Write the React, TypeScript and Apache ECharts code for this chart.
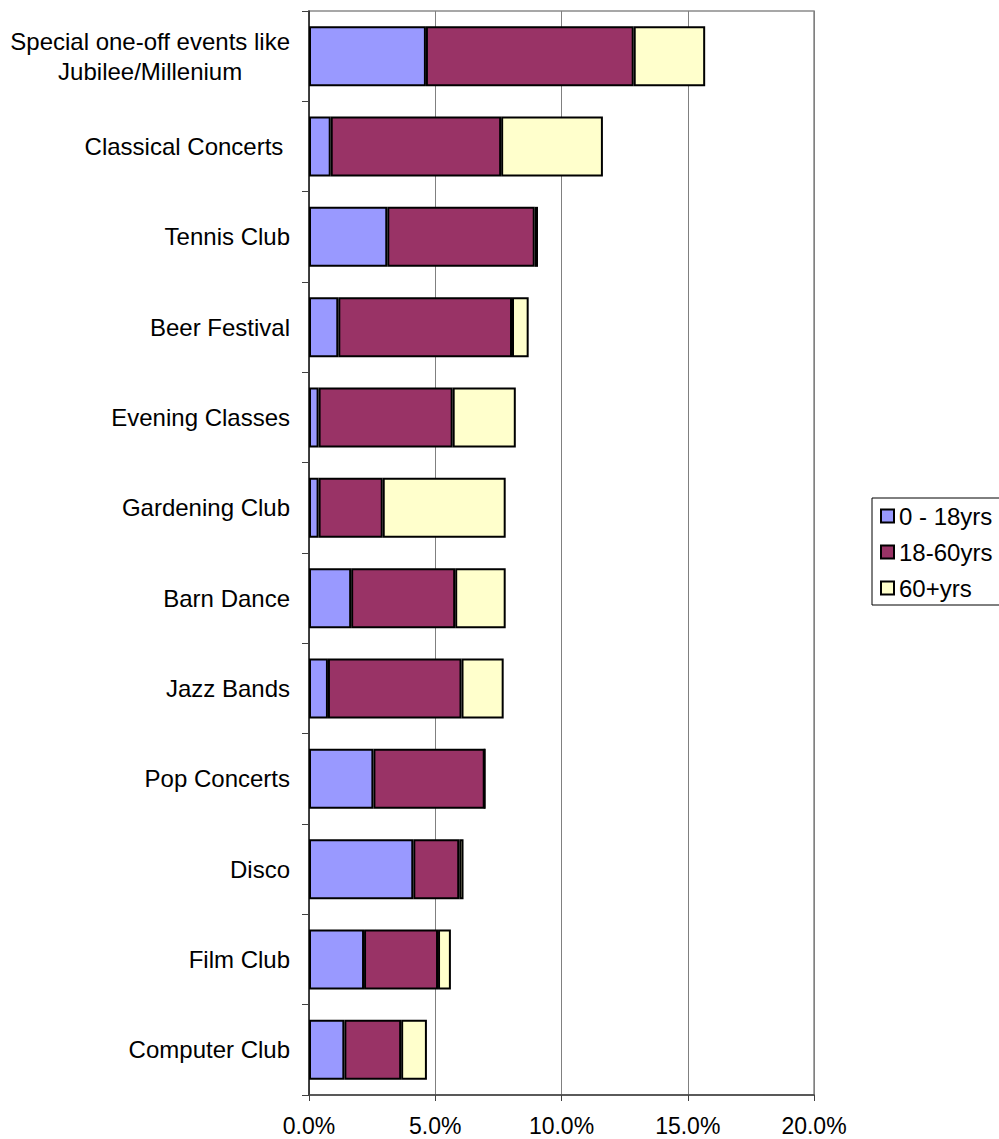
import React, { useEffect, useRef } from "react";
import * as echarts from "echarts";

const categories = [
  "Special one-off events like\nJubilee/Millenium",
  "Classical Concerts ",
  "Tennis Club",
  "Beer Festival",
  "Evening Classes",
  "Gardening Club",
  "Barn Dance",
  "Jazz Bands",
  "Pop Concerts",
  "Disco",
  "Film Club",
  "Computer Club",
];
const age0to18 = [4.63, 0.86, 3.1, 1.16, 0.38, 0.38, 1.67, 0.75, 2.55, 4.13, 2.18, 1.4];
const age18to60 = [8.23, 6.75, 5.84, 6.88, 5.31, 2.54, 4.12, 5.29, 4.41, 1.82, 2.93, 2.25];
const age60plus = [2.83, 4.03, 0.13, 0.66, 2.5, 4.87, 2.0, 1.67, 0, 0.17, 0.51, 1.02];
const seriesNames = ["0 - 18yrs", "18-60yrs", "60+yrs"];
const seriesColors = ["#9999FF", "#993366", "#FFFFCC"];
const xTicks = [0, 5, 10, 15, 20];

export default function App() {
  const ref = useRef<HTMLDivElement>(null);
  useEffect(() => {
    if (!ref.current) return;
    const chart = echarts.init(ref.current, null, { renderer: "svg" });
    const font = "Liberation Sans, Arial, sans-serif";
    const values = [age0to18, age18to60, age60plus];
    chart.setOption({
      animation: false,
      backgroundColor: "#ffffff",
      textStyle: { fontFamily: font },
      grid: {
        left: 309,
        right: 185,
        top: 11,
        bottom: 44,
        show: true,
        borderColor: "#8a8a8a",
        borderWidth: 1.5,
        backgroundColor: "transparent",
      },
      legend: {
        left: 872,
        top: 498,
        orient: "vertical",
        padding: [6, 12, 5, 8],
        itemGap: 12,
        itemWidth: 13,
        itemHeight: 13,
        itemTextGap: 2,
        borderColor: "#000",
        borderWidth: 1,
        icon: "rect",
        textStyle: { fontSize: 24, color: "#000", fontFamily: font, lineHeight: 24 },
        data: seriesNames,
      },
      xAxis: {
        type: "value",
        min: xTicks[0],
        max: xTicks[xTicks.length - 1],
        interval: 5,
        axisLine: { show: true, lineStyle: { color: "#404040", width: 1.5 } },
        axisTick: { show: true, length: 6, lineStyle: { color: "#404040" } },
        axisLabel: {
          formatter: (v: number) => v.toFixed(1) + "%",
          fontSize: 23,
          color: "#000",
          margin: 19,
          fontFamily: font,
        },
        splitLine: { show: true, lineStyle: { color: "#808080", width: 1 } },
      },
      yAxis: {
        type: "category",
        inverse: true,
        data: categories,
        axisLine: { show: true, lineStyle: { color: "#202020", width: 1.5 } },
        axisTick: { show: true, length: 7, lineStyle: { color: "#404040" } },
        axisLabel: {
          margin: 19,
          color: "#000",
          formatter: (v: string) =>
            v
              .split("\n")
              .map((l) => `{a|${l}}`)
              .join("\n"),
          rich: {
            a: { align: "center", fontSize: 24, lineHeight: 30, color: "#000", fontFamily: font },
          },
        },
        splitLine: { show: false },
      },
      series: seriesNames.map((name, i) => ({
        name,
        type: "bar",
        stack: "total",
        barWidth: 60,
        data: values[i],
        itemStyle: { color: seriesColors[i], borderColor: "#000", borderWidth: 2 },
        emphasis: { disabled: true },
      })),
    });
    return () => chart.dispose();
  }, []);
  return (
    <div
      ref={ref}
      style={{ position: "fixed", left: 0, top: 0, width: 999, height: 1139, background: "#fff" }}
    />
  );
}
